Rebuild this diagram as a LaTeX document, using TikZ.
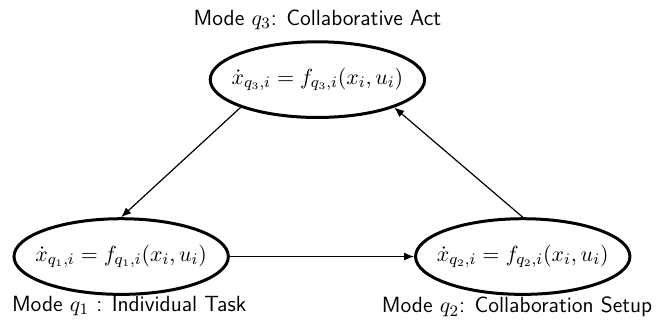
\documentclass[tikz,border=0pt]{standalone}
\usepackage{tikz}
\usetikzlibrary{shapes.geometric, arrows.meta}

\begin{document}
\begin{tikzpicture}[
    font=\fontsize{11}{13}\selectfont\sffamily,
    mode/.style={draw, ellipse, line width=1.5pt, inner xsep=-5pt, inner ysep=0pt, minimum height=1.33cm},
    link/.style={semithick, -{Latex[length=5pt, width=4pt]}},
]
\useasboundingbox (0, 0) rectangle (11.62, 5.80);

% Modes
\node[mode] (q3) at (5.58, 4.40) {$\dot{x}_{q_3,i} = f_{q_3,i}(x_i, u_i)$};
\node[mode] (q1) at (2.13, 1.29) {$\dot{x}_{q_1,i} = f_{q_1,i}(x_i, u_i)$};
\node[mode] (q2) at (9.19, 1.29) {$\dot{x}_{q_2,i} = f_{q_2,i}(x_i, u_i)$};

% Mode names
\node (q3name) at (5.58, 5.45) {Mode $q_3$: Collaborative Act};
\node (q1name) at (2.27, 0.42) {Mode $q_1$ : Individual Task};
\node (q2name) at (9.09, 0.40) {Mode $q_2$: Collaboration Setup};

% Transitions
\draw[link] (q3.south west) -- (q1.north);
\draw[link] (q1.east) -- (q2.west);
\draw[link] (q2.north) -- (q3.south east);

\end{tikzpicture}
\end{document}
